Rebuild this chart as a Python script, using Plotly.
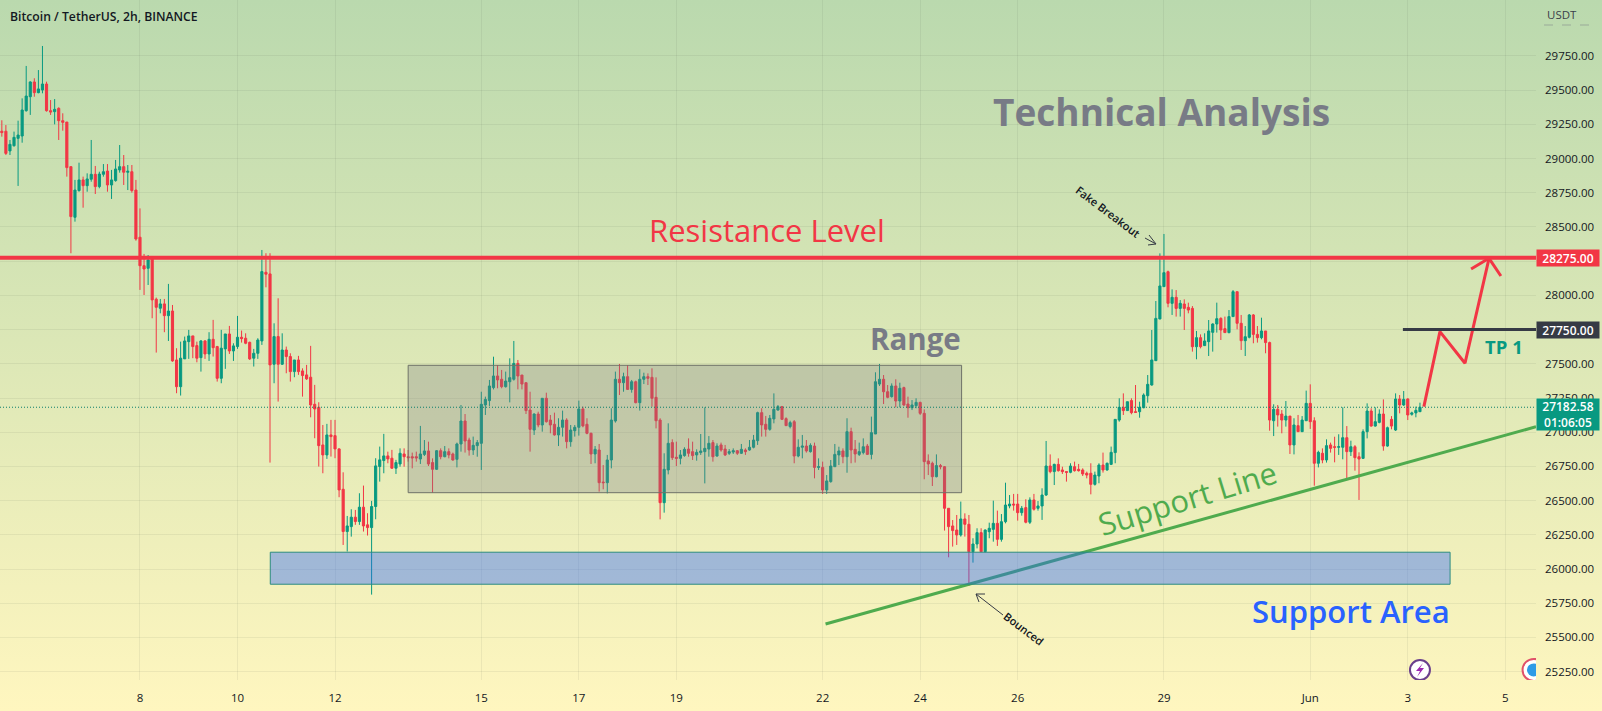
"""BTC/USDT 2h candlestick chart with hand drawn analysis on top."""

from __future__ import annotations

import base64

import pandas as pd
import plotly.graph_objects as go

WIDTH = 1602
HEIGHT = 711
PLOT_W = 1536
PLOT_H = 680
GREEN = "#089981"
RED = "#F23645"
GREY = "#787B86"
DARK = "#131722"

first_bar = "2023-05-05 04:00"

opens = [
    29200,29200,29056,29094,29148,29165,29350,29452,29560,29482,
    29501,29545,29350,29343,29367,29277,29267,28941,28571,28766,
    28844,28802,28849,28885,28795,28885,28909,28807,28839,28917,
    28941,28900,28904,28770,28425,28217,28198,28271,27972,27906,
    27938,27852,27886,27528,27333,27536,27662,27704,27633,27545,
    27667,27572,27679,27626,27394,27609,27718,27594,27626,27694,
    27687,27657,27541,27577,27667,28169,28157,27497,27699,27497,
    27601,27553,27443,27528,27448,27419,27402,27204,27182,26907,
    26834,26980,26975,26878,26583,26274,26310,26379,26347,26452,
    26323,26303,26457,26749,26793,26827,26810,26737,26768,26841,
    26821,26821,26821,26804,26838,26863,26778,26729,26865,26821,
    26858,26841,26802,26914,27082,26943,26870,26902,26919,27199,
    27231,27326,27411,27387,27333,27369,27387,27503,27418,27362,
    27162,27016,27133,27053,27248,27089,27058,26980,27036,27089,
    26931,27011,27036,27170,27058,26992,26841,26870,26636,26631,
    26797,27082,27387,27362,27406,27313,27369,27216,27387,27406,
    27401,27255,27089,26485,26724,26924,26817,26809,26829,26877,
    26858,26834,26851,26858,26877,26924,26826,26907,26877,26846,
    26855,26865,26846,26870,26870,26890,26938,27143,27058,27021,
    27097,27162,27187,27099,27041,27077,26826,26890,26899,26858,
    26899,26743,26743,26578,26639,26748,26834,26863,26821,27004,
    26875,26838,26851,26899,26838,26987,27352,27387,27296,27260,
    27338,27228,27326,27206,27179,27194,27218,27138,26790,26773,
    26675,26756,26748,26444,26315,26285,26249,26366,26327,26127,
    26183,26266,26127,26273,26290,26334,26217,26346,26461,26475,
    26475,26412,26449,26342,26505,26444,26461,26541,26753,26712,
    26765,26724,26712,26707,26748,26729,26724,26700,26700,26619,
    26680,26760,26724,26765,26851,27089,27182,27158,27231,27150,
    27150,27179,27267,27345,27523,27828,28064,28173,27942,27986,
    27905,27937,27913,27905,27625,27691,27633,27662,27730,27791,
    27832,27757,27728,27845,28027,27796,27669,27694,27857,27715,
    27691,27740,27655,27084,27167,27133,27089,27118,26907,27048,
    27004,27084,27211,27084,26773,26846,26797,26907,26894,26890,
    26890,26960,26858,26894,26821,26809,27004,27155,27045,27072,
    27133,26899,27094,27016,27243,27199,27243,27131,27141,27150,
]
highs = [
    29280,29245,29136,29197,29277,29440,29677,29565,29587,29647,
    29823,29562,29428,29435,29375,29331,29267,28941,28844,28970,
    28868,28892,29136,28946,28904,28960,28960,28917,28990,29099,
    29026,28953,28953,28844,28636,28303,28295,28278,27984,27974,
    27974,28084,27930,27614,27662,27699,27748,27704,27662,27674,
    27674,27731,27821,27631,27748,27718,27777,27650,27850,27743,
    27723,27662,27609,27687,28332,28308,28308,27796,27979,27723,
    27626,27577,27528,27558,27467,27492,27631,27346,27219,27053,
    27061,27090,27090,26883,26707,26388,26437,26432,26554,26610,
    26408,26498,26810,26895,26988,26858,26871,26798,26882,26882,
    26870,26851,26858,27046,26943,26931,26809,26870,26882,26899,
    26882,26851,26924,27199,27133,26960,26968,26943,27296,27260,
    27382,27552,27491,27455,27443,27540,27667,27528,27418,27362,
    27296,27138,27150,27248,27289,27126,27143,27102,27158,27102,
    27053,27053,27231,27187,27102,26997,26899,26914,26760,26834,
    27175,27443,27499,27435,27491,27382,27377,27460,27435,27430,
    27467,27401,27102,26846,27065,26948,26931,26870,26890,26955,
    26931,26875,26987,27182,26972,26943,26919,26924,26907,26877,
    26882,26870,26914,26882,26943,26980,27150,27175,27119,27126,
    27284,27199,27192,27109,27084,27089,26948,26980,26943,26919,
    26924,26809,26785,26687,26797,26914,26894,26882,27102,27033,
    26943,26924,26955,26914,27114,27438,27499,27418,27345,27357,
    27387,27362,27333,27260,27235,27248,27223,27167,26838,26785,
    26838,26768,26753,26444,26358,26395,26493,26407,26395,26225,
    26298,26298,26290,26339,26500,26427,26402,26631,26541,26549,
    26549,26461,26510,26524,26549,26497,26590,26936,26838,26770,
    26809,26748,26712,26773,26785,26768,26736,26712,26773,26712,
    26773,26851,26778,26895,27094,27248,27284,27223,27248,27345,
    27223,27284,27418,27747,27959,28307,28449,28181,28044,28039,
    27966,27971,27947,27922,27740,27715,27723,27820,27796,27947,
    27840,27845,27893,28039,28027,27857,27776,27864,27864,27776,
    27837,27740,27662,27204,27199,27162,27228,27118,27102,27126,
    27118,27304,27350,27109,26865,26882,26948,26924,26967,26985,
    27182,27045,26938,26906,26853,27021,27211,27175,27182,27167,
    27240,27041,27118,27284,27272,27301,27248,27150,27187,27216,
]
lows = [
    29160,29026,29026,29087,28800,29116,29343,29319,29452,29477,
    29477,29343,29319,29250,29136,29204,28868,28308,28539,28758,
    28641,28758,28831,28741,28783,28868,28758,28705,28831,28897,
    28807,28770,28751,28400,28040,28003,28076,27833,27582,27869,
    27731,27667,27515,27285,27268,27536,27536,27541,27511,27443,
    27536,27521,27553,27370,27358,27463,27572,27521,27609,27655,
    27643,27528,27480,27536,27638,28059,26778,27358,27224,27492,
    27431,27370,27402,27419,27260,27382,27109,26956,26749,26700,
    26805,26822,26810,26525,26176,26128,26237,26323,26323,26274,
    26245,25813,26364,26639,26700,26773,26732,26695,26748,26748,
    26785,26736,26785,26768,26826,26753,26558,26724,26802,26817,
    26809,26792,26743,26858,26851,26829,26834,26821,26724,27126,
    27192,27313,27321,27321,27326,27218,27377,27313,27313,27133,
    26858,26980,27036,27004,27070,26992,26975,26899,26968,26882,
    26894,26968,26975,27036,26985,26768,26773,26566,26583,26553,
    26736,27070,27272,27296,27309,27289,27211,27158,27352,27345,
    27187,27028,26363,26412,26692,26797,26753,26765,26821,26821,
    26797,26792,26834,26626,26821,26785,26821,26858,26826,26834,
    26841,26834,26841,26834,26865,26882,26907,26968,26968,27011,
    27065,27158,27089,27046,27028,26773,26817,26809,26851,26851,
    26663,26724,26549,26549,26631,26748,26760,26773,26704,26773,
    26778,26826,26838,26834,26802,26987,27338,27206,27248,27253,
    27182,27182,27192,27106,27162,27175,27126,26656,26687,26607,
    26670,26729,26281,26086,26164,26176,26237,26237,25876,26047,
    26151,26127,26122,26225,26200,26169,26200,26334,26444,26427,
    26354,26390,26334,26329,26427,26427,26359,26534,26700,26614,
    26712,26695,26639,26700,26712,26712,26680,26663,26546,26610,
    26627,26705,26719,26760,26773,27077,27126,27158,27131,27143,
    27106,27175,27216,27340,27521,27825,28064,27913,27857,27845,
    27845,27747,27869,27589,27533,27613,27630,27557,27589,27728,
    27674,27728,27723,27845,27752,27601,27557,27686,27650,27655,
    27679,27577,27011,26972,27041,26992,27041,26841,26838,27004,
    27004,27084,27024,26609,26743,26773,26778,26851,26780,26834,
    26802,26658,26826,26719,26505,26804,26955,27041,27041,27065,
    26865,26894,27021,27009,27138,27192,27089,27121,27109,27148,
]
closes = [
    29190,29038,29104,29155,29172,29355,29457,29560,29482,29509,
    29545,29350,29340,29360,29277,29265,28934,28576,28770,28844,
    28802,28851,28885,28795,28887,28904,28807,28844,28924,28941,
    28900,28907,28766,28412,28217,28193,28259,27967,27913,27938,
    27852,27886,27521,27333,27541,27667,27704,27626,27541,27667,
    27572,27679,27618,27394,27614,27718,27594,27631,27694,27684,
    27650,27536,27577,27674,28174,28155,27492,27699,27497,27601,
    27553,27443,27528,27443,27414,27390,27199,27170,26902,26834,
    26980,26968,26878,26578,26274,26315,26379,26347,26452,26315,
    26303,26457,26754,26798,26827,26805,26737,26778,26846,26821,
    26814,26812,26812,26841,26863,26768,26729,26865,26821,26858,
    26834,26797,26914,27082,26936,26870,26904,26924,27204,27240,
    27338,27411,27382,27333,27374,27399,27503,27411,27352,27158,
    27021,27133,27053,27248,27077,27053,26980,27036,27089,26931,
    27016,27036,27170,27046,26992,26841,26875,26631,26631,26797,
    27089,27387,27362,27406,27313,27369,27216,27387,27406,27394,
    27248,27084,26485,26729,26919,26814,26809,26834,26875,26846,
    26829,26853,26863,26882,26919,26821,26899,26870,26834,26858,
    26865,26846,26875,26858,26890,26943,27143,27053,27021,27102,
    27167,27187,27094,27048,27070,26826,26890,26899,26863,26904,
    26743,26748,26578,26644,26753,26838,26863,26821,27004,26870,
    26841,26858,26894,26838,26997,27369,27387,27296,27255,27338,
    27228,27321,27199,27179,27199,27218,27138,26785,26768,26675,
    26756,26748,26444,26310,26281,26249,26366,26327,26127,26183,
    26266,26127,26285,26298,26334,26217,26346,26468,26475,26468,
    26412,26444,26342,26505,26437,26461,26541,26753,26712,26765,
    26719,26712,26707,26753,26719,26719,26695,26687,26619,26687,
    26760,26724,26773,26853,27094,27182,27158,27223,27143,27145,
    27182,27272,27350,27528,27832,28069,28166,27942,27986,27905,
    27942,27905,27893,27625,27691,27625,27667,27740,27791,27830,
    27747,27728,27845,28027,27796,27669,27698,27857,27715,27691,
    27740,27655,27089,27167,27126,27089,27118,26907,27053,27004,
    27089,27211,27077,26773,26853,26797,26902,26882,26890,26894,
    26960,26858,26894,26814,26804,27004,27155,27045,27077,27133,
    26899,27033,27045,27243,27199,27240,27126,27141,27160,27182.58,
]

date_ticks = [
    "2023-05-08", "2023-05-10", "2023-05-12", "2023-05-15", "2023-05-17",
    "2023-05-19", "2023-05-22", "2023-05-24", "2023-05-26", "2023-05-29",
    "2023-06-01", "2023-06-03", "2023-06-05",
]
date_labels = ["8", "10", "12", "15", "17", "19", "22", "24", "26", "29", "Jun", "3", "5"]
price_ticks = list(range(25250, 30000, 250))
# 28250 and 27750 sit fully behind the coloured level labels
price_labels = ["" if p in (28250, 27750) else f"{p}.00" for p in price_ticks]

resistance = 28275
target = 27750
last_price = 27182.58

# drawing anchors, time / price
support_time = ["2023-05-22 01:26", "2023-06-05 15:07"]
support_price = [25598, 27040]
path_time = ["2023-06-03 07:56", "2023-06-03 15:50", "2023-06-04 04:10", "2023-06-04 16:00"]
path_price = [27187, 27735, 27504, 28271]
head_time = ["2023-06-04 07:10", "2023-06-04 16:00", "2023-06-04 21:50"]
head_price = [28193, 28271, 28142]


def px(x: float) -> float:
    """Pixel column to paper coordinate (paper is the plot area)."""
    return x / PLOT_W


def py(y: float) -> float:
    """Pixel row to paper coordinate (paper is the plot area)."""
    return 1 - y / PLOT_H


def paper_path(points: list[tuple[float, float]], close: bool = False) -> str:
    """SVG path in paper coordinates from pixel points."""
    parts = [f"{px(x):.5f},{py(y):.5f}" for x, y in points]
    return "M" + " L".join(parts) + (" Z" if close else "")


def gradient_source() -> str:
    """Vertical background gradient as an inline svg image."""
    svg = (
        '<svg xmlns="http://www.w3.org/2000/svg" width="16" height="711" preserveAspectRatio="none">'
        '<defs><linearGradient id="g" x1="0" y1="0" x2="0" y2="1">'
        '<stop offset="0" stop-color="#BAD9AE"/><stop offset="1" stop-color="#FFF6BF"/>'
        '</linearGradient></defs><rect width="16" height="711" fill="url(#g)"/></svg>'
    )
    return "data:image/svg+xml;base64," + base64.b64encode(svg.encode()).decode()


def add_label(fig: go.Figure, text: str, x: float, y: float, size: float, color: str, **kwargs) -> None:
    """Free text placed by pixel position, centred unless told otherwise."""
    font = {"family": "Open Sans", "size": size, "color": color, "weight": kwargs.pop("weight", 400)}
    fig.add_annotation(
        text=text, x=px(x), y=py(y), xref="paper", yref="paper", yanchor="middle",
        xanchor=kwargs.pop("xanchor", "center"), showarrow=False, font=font, **kwargs,
    )


def add_price_box(fig: go.Figure, text: str, price: float, color: str, height: int = 16) -> None:
    """Coloured label on the price scale."""
    fig.add_annotation(
        text=text, x=1, y=price, xref="paper", yref="y", xanchor="left", yanchor="middle",
        showarrow=False, bgcolor=color, width=62, height=height, borderpad=0, align="center",
        font={"family": "Open Sans", "size": 12, "color": "white", "weight": 600},
    )


bar_times = pd.date_range(first_bar, periods=len(closes), freq="2h")

fig = go.Figure()
fig.add_trace(
    go.Candlestick(
        x=bar_times, open=opens, high=highs, low=lows, close=closes,
        increasing={"line": {"color": GREEN, "width": 1}, "fillcolor": GREEN},
        decreasing={"line": {"color": RED, "width": 1}, "fillcolor": RED},
        whiskerwidth=0, hoverinfo="skip",
    )
)
fig.add_trace(go.Scatter(x=support_time, y=support_price, mode="lines",
                         line={"color": "#4FAB4E", "width": 3}, hoverinfo="skip"))
fig.add_trace(go.Scatter(x=path_time, y=path_price, mode="lines",
                         line={"color": RED, "width": 3}, hoverinfo="skip"))
fig.add_trace(go.Scatter(x=head_time, y=head_price, mode="lines",
                         line={"color": RED, "width": 3}, hoverinfo="skip"))

fig.update_layout(
    width=WIDTH,
    height=HEIGHT,
    margin={"l": 0, "r": WIDTH - PLOT_W, "t": 0, "b": HEIGHT - PLOT_H},
    showlegend=False,
    paper_bgcolor="rgba(0,0,0,0)",
    plot_bgcolor="rgba(0,0,0,0)",
    boxgap=0.25,
    font={"family": "Open Sans", "size": 11.5, "color": DARK},
    images=[{
        "source": gradient_source(), "xref": "paper", "yref": "paper", "x": 0, "y": 1,
        "sizex": WIDTH / PLOT_W, "sizey": HEIGHT / PLOT_H, "sizing": "stretch", "layer": "below",
        "xanchor": "left", "yanchor": "top",
    }],
)
fig.update_xaxes(
    type="date", range=["2023-05-05 03:06", "2023-06-05 15:07"], rangeslider_visible=False,
    tickmode="array", tickvals=date_ticks, ticktext=date_labels, ticks="", ticklabelstandoff=9,
    showgrid=True, gridcolor="rgba(60,80,60,0.08)", gridwidth=1, zeroline=False, showline=False,
)
fig.update_yaxes(
    range=[25189, 30159], side="right", tickmode="array", tickvals=price_ticks, ticktext=price_labels,
    ticks="", ticklabelstandoff=8, showgrid=True, gridcolor="rgba(60,80,60,0.08)", gridwidth=1,
    zeroline=False, showline=False,
)

# boxes
fig.add_shape(type="rect", x0="2023-05-13 12:00", x1="2023-05-24 20:24", y0=26558, y1=27489,
              fillcolor="rgba(120,123,134,0.30)", line={"color": "#6F7268", "width": 1}, layer="above")
fig.add_shape(type="rect", x0="2023-05-10 16:08", x1="2023-06-03 20:50", y0=25889, y1=26123,
              fillcolor="rgba(41,100,255,0.40)", line={"color": "#2B8C80", "width": 1}, layer="above")

# levels
fig.add_shape(type="line", xref="x domain", x0=0, x1=1, y0=resistance, y1=resistance,
              line={"color": RED, "width": 4}, layer="above")
fig.add_shape(type="line", xref="x domain", x0=0, x1=1, y0=last_price, y1=last_price,
              line={"color": "#0B7F6C", "width": 1, "dash": "1px,2px"}, layer="above")
fig.add_shape(type="line", x0="2023-06-02 21:36", x1="2023-06-05 15:07", y0=target, y1=target,
              line={"color": "#363A45", "width": 3}, layer="above")

# thin arrows next to the notes
thin = {"color": "#363A45", "width": 1}
fig.add_shape(type="path", path=paper_path([(1145, 238), (1156, 244)]), xref="paper", yref="paper", line=thin)
fig.add_shape(type="path", path=paper_path([(1149, 235), (1156, 244), (1148, 245)]), xref="paper", yref="paper", line=thin)
fig.add_shape(type="path", path=paper_path([(1003, 615), (976, 594)]), xref="paper", yref="paper", line=thin)
fig.add_shape(type="path", path=paper_path([(985, 594), (976, 594), (979, 602)]), xref="paper", yref="paper", line=thin)

# scale header
fig.add_shape(type="line", xref="paper", yref="paper", x0=px(1544), x1=px(1592), y0=py(25), y1=py(25),
              line={"color": "rgba(120,123,134,0.5)", "width": 1, "dash": "dash"})

# markers on the time scale
fig.add_shape(type="circle", x0="2023-06-03 01:05", x1="2023-06-03 10:55", y0=25189, y1=25335,
              fillcolor="white", line={"color": "#6A3F8C", "width": 2}, layer="above")
fig.add_shape(type="path", path=paper_path([(1423, 663), (1416, 671), (1420, 671), (1417, 677), (1424, 668), (1420, 668)], close=True),
              xref="paper", yref="paper", fillcolor="#9B27B0", line={"width": 0})
fig.add_shape(type="circle", x0="2023-06-05 08:30", x1="2023-06-05 19:30", y0=25182, y1=25343,
              fillcolor="white", line={"color": "#E0516A", "width": 2}, layer="above")
fig.add_shape(type="circle", x0="2023-06-05 10:40", x1="2023-06-05 17:20", y0=25215, y1=25310,
              fillcolor="#2E9BE6", line={"width": 0}, layer="above")

# notes
add_label(fig, "Bitcoin / TetherUS, 2h, BINANCE", 8, 16, 12.2, DARK, xanchor="left", weight=600)
add_label(fig, "USDT", 1545, 14, 11.5, "#3A3E4A", xanchor="left")
add_label(fig, "Technical Analysis", 1161, 112, 37, GREY, weight=700)
add_label(fig, "Resistance Level", 767, 230, 31, RED)
add_label(fig, "Range", 915, 338, 29.5, GREY, weight=700)
add_label(fig, "Support Area", 1351, 611, 31, "#2962FF", weight=600)
add_label(fig, "Support Line", 1187, 498, 31, "#4FAB4E", textangle=-17)
add_label(fig, "TP 1", 1504, 346, 18.5, GREEN, weight=700)
add_label(fig, "Fake Breakout", 1108, 211, 11, DARK, textangle=37, weight=600)
add_label(fig, "Bounced", 1024, 628, 11, DARK, textangle=37, weight=600)

add_price_box(fig, "28275.00", resistance, RED)
add_price_box(fig, "27750.00", target, "#363A45")
add_price_box(fig, "27182.58<br>01:06:05", 27130, GREEN, height=31)

fig.write_html(
    "out.html",
    config={"displayModeBar": False},
    post_script="document.body.style.margin='0';",
)
